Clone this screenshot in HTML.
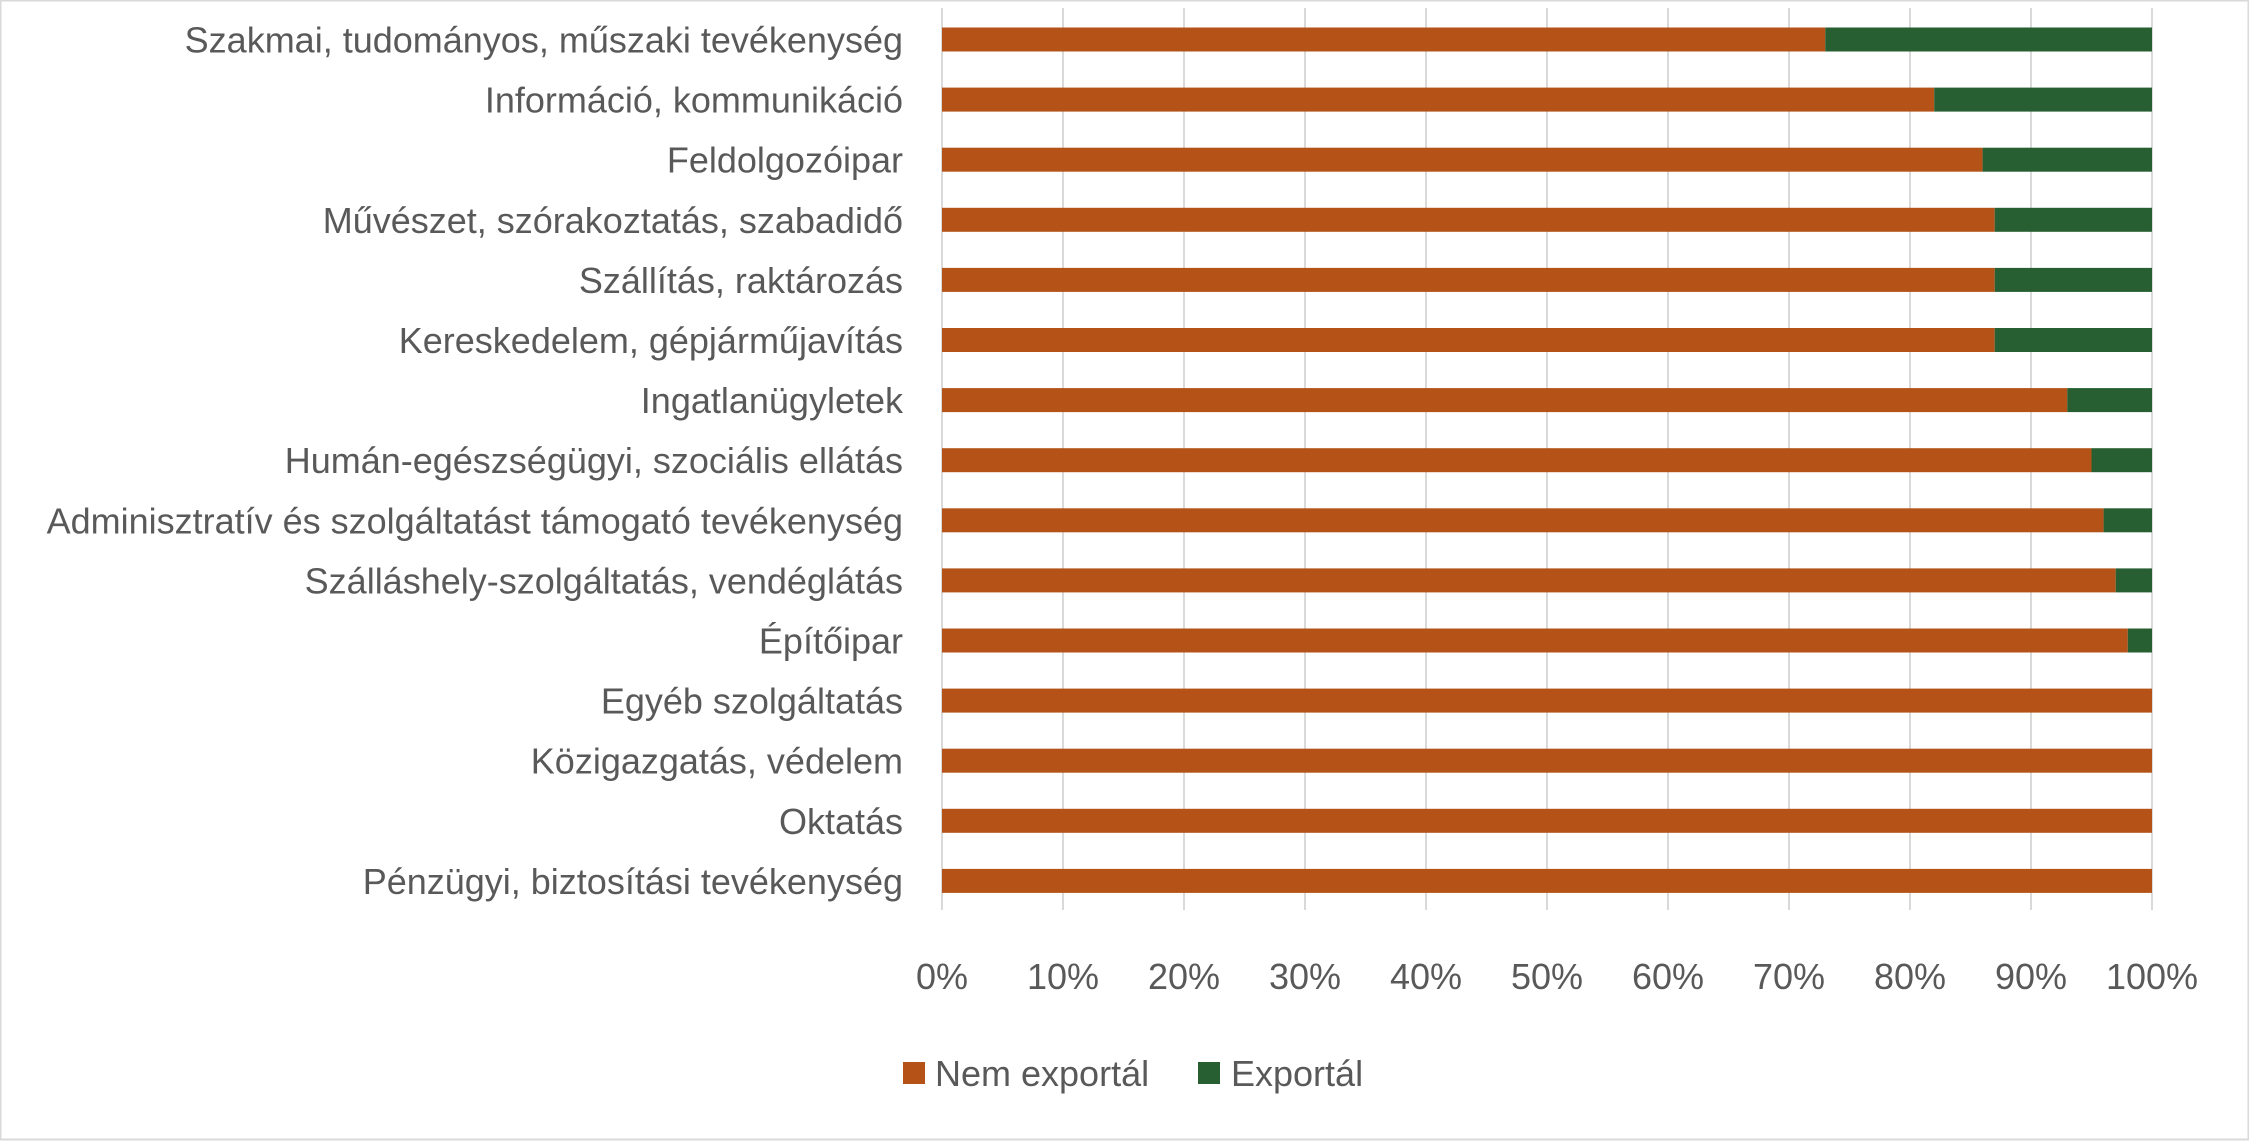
<!DOCTYPE html>
<html><head><meta charset="utf-8"><style>
html,body{margin:0;padding:0;background:#fff;}
svg{display:block;}
text{font-family:"Liberation Sans",sans-serif;fill:#595959;}
</style></head><body>
<svg width="2249" height="1141" xmlns="http://www.w3.org/2000/svg">
<rect x="0.5" y="0.5" width="2248" height="1139" fill="#fff" stroke="#d9d9d9" stroke-width="2"/>
<g stroke="#d9d9d9" stroke-width="2">
<line x1="942" y1="8" x2="942" y2="910"/><line x1="1063" y1="8" x2="1063" y2="910"/><line x1="1184" y1="8" x2="1184" y2="910"/><line x1="1305" y1="8" x2="1305" y2="910"/><line x1="1426" y1="8" x2="1426" y2="910"/><line x1="1547" y1="8" x2="1547" y2="910"/><line x1="1668" y1="8" x2="1668" y2="910"/><line x1="1789" y1="8" x2="1789" y2="910"/><line x1="1910" y1="8" x2="1910" y2="910"/><line x1="2031" y1="8" x2="2031" y2="910"/><line x1="2152" y1="8" x2="2152" y2="910"/>
</g>
<g id="bars"></g>
<g id="labels" font-size="36" text-anchor="end"></g>
<g font-size="36" text-anchor="middle">
<text x="942" y="989">0%</text><text x="1063" y="989">10%</text><text x="1184" y="989">20%</text><text x="1305" y="989">30%</text><text x="1426" y="989">40%</text><text x="1547" y="989">50%</text><text x="1668" y="989">60%</text><text x="1789" y="989">70%</text><text x="1910" y="989">80%</text><text x="2031" y="989">90%</text><text x="2152" y="989">100%</text>
</g>
<rect x="903" y="1062" width="22" height="22" fill="#b45218"/>
<text x="935" y="1086" font-size="36">Nem exportál</text>
<rect x="1198" y="1062" width="22" height="22" fill="#275e32"/>
<text x="1231" y="1086" font-size="36">Exportál</text>
<script>
var names=["Szakmai, tudományos, műszaki tevékenység","Információ, kommunikáció","Feldolgozóipar","Művészet, szórakoztatás, szabadidő","Szállítás, raktározás","Kereskedelem, gépjárműjavítás","Ingatlanügyletek","Humán-egészségügyi, szociális ellátás","Adminisztratív és szolgáltatást támogató tevékenység","Szálláshely-szolgáltatás, vendéglátás","Építőipar","Egyéb szolgáltatás","Közigazgatás, védelem","Oktatás","Pénzügyi, biztosítási tevékenység"];
var v=[73,82,86,87,87,87,93,95,96,97,98,100,100,100,100];
var ns="http://www.w3.org/2000/svg",b=document.getElementById("bars"),l=document.getElementById("labels");
for(var i=0;i<15;i++){var cy=39.5+60.1*i;
var w=1210*v[i]/100;
var r=document.createElementNS(ns,"rect");r.setAttribute("x",942);r.setAttribute("y",cy-12);r.setAttribute("width",w);r.setAttribute("height",24);r.setAttribute("fill","#b45218");b.appendChild(r);
if(v[i]<100){var g=document.createElementNS(ns,"rect");g.setAttribute("x",942+w);g.setAttribute("y",cy-12);g.setAttribute("width",1210-w);g.setAttribute("height",24);g.setAttribute("fill","#275e32");b.appendChild(g);}
var t=document.createElementNS(ns,"text");t.setAttribute("x",903);t.setAttribute("y",cy+13);t.textContent=names[i];l.appendChild(t);}
</script>
</svg>
</body></html>
